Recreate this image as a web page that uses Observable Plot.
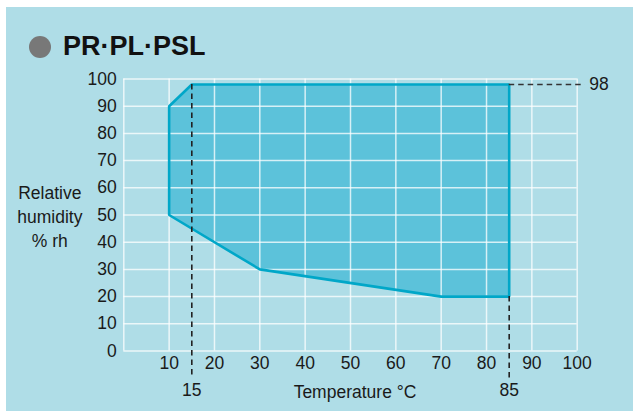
<!DOCTYPE html>
<html>
<head>
<meta charset="utf-8">
<script src="https://cdn.jsdelivr.net/npm/d3@7"></script>
<script src="https://cdn.jsdelivr.net/npm/@observablehq/plot@0.6"></script>
<style>
  html, body { margin: 0; padding: 0; background: #fff; }
  #panel { position: absolute; left: 6px; top: 7px; width: 627px; height: 404px; background: #afdde7; overflow: hidden; }
  #title { position: relative; height: 63px; }
  #dot { position: absolute; left: 23px; top: 29px; width: 22px; height: 22px; border-radius: 50%; background: #787878; }
  #ttxt { position: absolute; left: 57px; top: 26px; font: bold 27px/1 "Liberation Sans", Arial, sans-serif; color: #111; white-space: nowrap; }
  #chart svg { display: block; }
</style>
</head>
<body>
<div id="panel">
  <div id="title"><div id="dot"></div><div id="ttxt">PR·PL·PSL</div></div>
  <div id="chart"></div>
</div>
<script>
// Tick values
const tempTicks = [10, 20, 30, 40, 50, 60, 70, 80, 90, 100];
const gridTemps = [0, 10, 20, 30, 40, 50, 60, 70, 80, 90, 100];
const humidTicks = [0, 10, 20, 30, 40, 50, 60, 70, 80, 90, 100];

// Operating envelope (temperature °C, relative humidity %)
const envTemp = [10, 10, 15, 85, 85, 70, 30];
const envHum  = [50, 90, 98, 98, 20, 20, 30];

// Marker lines
const markTemps = [15, 85];
const markTops  = [98, 20];
const markHum   = [98];
const markHumFrom = 85;

const envelope = envTemp.map((t, i) => ({t, h: envHum[i]}));
const marks = markTemps.map((t, i) => ({t, top: markTops[i]}));

const chart = Plot.plot({
  width: 627,
  height: 341,
  marginLeft: 117.3,
  marginRight: 56.3,
  marginTop: 8.5,
  marginBottom: 60.5,
  x: {domain: [0, 100], axis: null},
  y: {domain: [0, 100], axis: null},
  style: {fontFamily: "Liberation Sans, Arial, sans-serif", fontSize: "17.5px", color: "#1a1a1a", background: "transparent", overflow: "visible"},
  marks: [
    Plot.line(envelope, {x: "t", y: "h", curve: "linear-closed", fill: "#5cc2da", stroke: "none"}),
    Plot.ruleX(gridTemps, {y1: 0, y2: 100, stroke: "#fff", strokeOpacity: 0.75, strokeWidth: 1.5}),
    Plot.ruleY(humidTicks, {x1: 0, x2: 100, stroke: "#fff", strokeOpacity: 0.75, strokeWidth: 1.5}),
    Plot.line(envelope, {x: "t", y: "h", curve: "linear-closed", fill: "none", stroke: "#00a7c8", strokeWidth: 2.6, strokeLinejoin: "miter"}),
    Plot.ruleX(marks, {x: "t", y1: "top", y2: 0, insetBottom: -28, stroke: "#222", strokeWidth: 1.6, strokeDasharray: "5.5,4"}),
    Plot.ruleY(markHum, {y: d => d, x1: markHumFrom, x2: 100, insetRight: -8, stroke: "#333", strokeWidth: 1.6, strokeDasharray: "5.5,4"}),
    Plot.axisX(tempTicks, {tickSize: 0, tickPadding: 6, fontSize: 17.5, label: null}),
    Plot.axisY(humidTicks, {tickSize: 0, tickPadding: 7, fontSize: 17.5, label: null}),
    Plot.text(markTemps, {x: d => d, frameAnchor: "bottom", dy: 39.5, text: d => String(d), fontSize: 17.5, lineAnchor: "middle"}),
    Plot.text(markHum, {x: 100, y: d => d, dx: 12, text: d => String(d), textAnchor: "start", fontSize: 17.5}),
    Plot.text(["Temperature °C"], {frameAnchor: "bottom", dx: 4.5, dy: 41.5, fontSize: 17.5, lineAnchor: "middle"}),
    Plot.text(["Relative\nhumidity\n% rh"], {frameAnchor: "left", dx: -74, textAnchor: "middle", lineHeight: 1.38, fontSize: 17.5})
  ]
});
document.getElementById("chart").appendChild(chart);
</script>
</body>
</html>
